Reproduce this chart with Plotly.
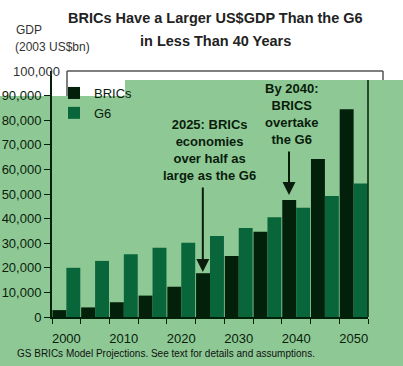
import plotly.graph_objects as go

years = ["2000", "2005", "2010", "2015", "2020", "2025", "2030", "2035", "2040", "2045", "2050"]
brics = [2800, 3900, 6000, 8700, 12300, 17800, 24800, 34700, 47600, 64200, 84500]
g6 = [20000, 22800, 25500, 28200, 30200, 32900, 36200, 40500, 44400, 49200, 54300]
x_labels = ["2000", "", "2010", "", "2020", "", "2030", "", "2040", "", "2050"]
y_ticks = [0, 10000, 20000, 30000, 40000, 50000, 60000, 70000, 80000, 90000]

W, H = 403, 366
L, R, T, B = 52, 368, 71, 317
BG = "#8ec995"
DARK = "#03210a"
MID = "#08663a"
TXT = "#0a1c0c"
FONT = "Liberation Sans, Arial, sans-serif"

def px(x):
    return (x - L) / (R - L)

def py(y):
    return (B - y) / (B - T)

fig = go.Figure()
fig.add_trace(go.Bar(x=years, y=brics, name="BRICs", marker=dict(color=DARK, line=dict(width=0))))
fig.add_trace(go.Bar(x=years, y=g6, name="G6", marker=dict(color=MID, line=dict(width=0))))

shapes = [
    dict(type="rect", xref="paper", yref="paper", x0=px(0), x1=px(W), y0=py(96), y1=py(H),
         fillcolor=BG, line=dict(width=0), layer="below"),
    dict(type="rect", xref="paper", yref="paper", x0=px(125), x1=px(W), y0=py(80), y1=py(96.5),
         fillcolor=BG, line=dict(width=0), layer="below"),
    dict(type="line", xref="paper", yref="paper", x0=px(67), x1=px(383), y0=py(71), y1=py(71),
         line=dict(color="#555555", width=1.5)),
    dict(type="line", xref="paper", yref="paper", x0=px(67), x1=px(67), y0=py(71), y1=py(96),
         line=dict(color="#555555", width=1.5)),
    dict(type="line", xref="paper", yref="paper", x0=px(383), x1=px(383), y0=py(71), y1=py(80),
         line=dict(color="#555555", width=1.5)),
    dict(type="line", xref="paper", yref="paper", x0=px(368), x1=px(368), y0=py(80), y1=py(317),
         line=dict(color=DARK, width=1.5)),
]

def note(text, x, y, xanchor, size, color, bold=False):
    return dict(text=f"<b>{text}</b>" if bold else text, xref="paper", yref="paper",
                x=px(x), y=py(y), xanchor=xanchor, yanchor="middle", showarrow=False,
                font=dict(size=size, color=color, family=FONT))

annotations = [
    note("BRICs Have a Larger US$GDP Than the G6", 215, 18, "center", 14.5, "#222222", True),
    note("in Less Than 40 Years", 215, 41, "center", 14.5, "#222222", True),
    note("GDP", 14, 30, "left", 12, "#333333"),
    note("(2003 US$bn)", 13, 47, "left", 12, "#333333"),
    note("100,000", 62, 71, "right", 13, "#333333"),
    note("GS BRICs Model Projections. See text for details and assumptions.", 15, 353, "left",
         10, "#111111"),
    dict(text="<b>2025: BRICs<br>economies<br>over half as<br>large as the G6</b>", x=4.97, y=67900,
         xref="x", yref="y", showarrow=False, font=dict(size=13, color=TXT, family=FONT)),
    dict(text="<b>By 2040:<br>BRICS<br>overtake<br>the G6</b>", x=7.82, y=82700,
         xref="x", yref="y", showarrow=False, font=dict(size=13, color=TXT, family=FONT)),
    dict(text="", x=4.75, y=18300, ax=4.75, ay=53300, xref="x", yref="y", axref="x", ayref="y",
         showarrow=True, arrowhead=2, arrowsize=1.3, arrowwidth=2, arrowcolor=TXT),
    dict(text="", x=7.75, y=49600, ax=7.75, ay=67900, xref="x", yref="y", axref="x", ayref="y",
         showarrow=True, arrowhead=2, arrowsize=1.3, arrowwidth=2, arrowcolor=TXT),
]

fig.update_layout(
    width=W, height=H,
    margin=dict(l=L, r=W - R, t=T, b=H - B, pad=0, autoexpand=False),
    paper_bgcolor="white", plot_bgcolor="rgba(0,0,0,0)",
    barmode="group", bargap=0.03, bargroupgap=0,
    font=dict(family=FONT, color=TXT),
    showlegend=True,
    legend=dict(x=px(54), y=py(78), xanchor="left", yanchor="top", bgcolor="rgba(0,0,0,0)",
                font=dict(size=13, color=TXT, family=FONT), itemwidth=30, tracegroupgap=0),
    shapes=shapes, annotations=annotations,
    xaxis=dict(type="category", categoryorder="array", categoryarray=years,
               tickmode="array", tickvals=years, ticktext=x_labels, tickson="boundaries",
               ticks="outside", ticklen=5, tickcolor=DARK, showline=True, linecolor=DARK,
               linewidth=2, showgrid=False, ticklabelstandoff=8, tickangle=0, automargin=False,
               tickfont=dict(size=13, color=TXT, family=FONT)),
    yaxis=dict(range=[0, 100000], tickmode="array", tickvals=y_ticks, automargin=False,
               ticktext=[f"{v:,}" for v in y_ticks], ticks="outside", ticklen=6, tickcolor=DARK,
               showline=True, linecolor=DARK, linewidth=2, showgrid=False, zeroline=False,
               tickfont=dict(size=13, color=TXT, family=FONT)),
)

fig.write_html("out.html", config={"displayModeBar": False},
               post_script="document.body.style.margin='0';document.body.style.overflow='hidden';")
